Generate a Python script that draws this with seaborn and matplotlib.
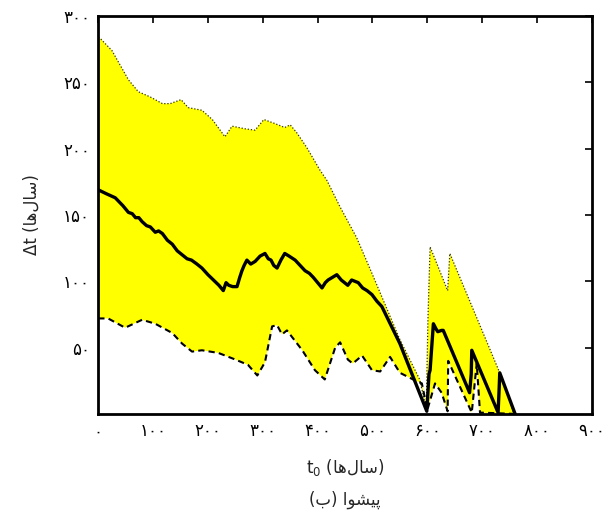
import numpy as np
import pandas as pd
import matplotlib
matplotlib.use("Agg")
import matplotlib.pyplot as plt
import seaborn as sns

# upper bound (dotted edge of the yellow band)
upper_t = [0, 4, 25, 55, 73, 95, 117, 131, 151, 164, 189, 208, 231, 244, 268, 286, 302,
           322, 340, 350, 362, 380, 404, 417, 441, 471, 499, 550, 586, 598, 601, 605,
           637, 641, 732, 758]
upper_v = [284, 283, 274, 252, 243, 239, 234, 234, 237, 231, 229, 222, 209, 217, 215, 214, 222,
           219, 216, 218, 212, 201, 184, 176, 156, 133, 106, 56, 26, 4, 70, 126,
           93, 121, 31, 0]

# mean curve (thick black)
mean_t = [0, 15, 31, 45, 55, 62, 68, 74, 80, 88, 95, 104, 110, 117, 126, 135, 144, 153,
          162, 170, 180, 189, 200, 210, 220, 228, 233, 238, 245, 253, 258, 262, 266, 271,
          278, 286, 295, 304, 310, 315, 320, 326, 333, 340, 348, 359, 368, 377, 385, 392,
          400, 408, 414, 419, 427, 435, 443, 449, 455, 462, 468, 474, 482, 490, 499, 508,
          517, 550, 599, 603, 605, 611, 616, 619, 626, 629, 677, 680, 681, 729, 731,
          732, 760]
mean_v = [169, 166, 163, 157, 152, 151, 148, 148, 145, 142, 141, 137, 138, 136, 131, 128,
          123, 120, 117, 116, 113, 110, 105, 101, 97, 93, 99, 97, 96, 96, 103, 108, 112,
          116, 113, 115, 119, 121, 117, 116, 112, 110, 116, 121, 119, 116, 112, 108, 106,
          103, 99, 95, 99, 101, 103, 105, 101, 99, 97, 101, 100, 99, 95, 93, 90, 85,
          81, 53, 2, 30, 33, 68, 64, 62, 63, 63, 16, 30, 48, 1, 20,
          31, 0]

# lower bound (dashed)
lower_t = [0, 18, 49, 80, 104, 135, 153, 171, 189, 219, 250, 273, 290, 304, 317, 326,
           335, 344, 372, 395, 413, 432, 441, 455, 464, 481, 499, 514, 532, 550, 574,
           590, 600, 614, 626, 637, 638, 660, 681, 690, 696, 760]
lower_v = [72, 72, 65, 71, 68, 61, 53, 47, 48, 46, 41, 37, 29, 39, 66, 67,
           60, 63, 48, 33, 26, 50, 54, 41, 38, 44, 33, 32, 43, 31, 26,
           23, 3, 23, 16, 2, 40, 20, 1, 38, 1, 0]

x_ticks = [0, 100, 200, 300, 400, 500, 600, 700, 800, 900]
y_ticks = [50, 100, 150, 200, 250, 300]

FA_DIGITS = str.maketrans("0123456789", "۰۱۲۳۴۵۶۷۸۹")


def fa(n):
    return str(n).translate(FA_DIGITS)


# Persian words in visual (left-to-right) order with presentation forms
sal_ha = "\uFE8E\uFEEB\uFEDD\uFE8E\uFEB3"
pishva = "\uFE8D\uFEEE\uFEB8\uFEF4\uFB58"
be = "\uFE8F"

sns.set_style("white")
plt.rcParams["font.family"] = ["DejaVu Sans"]
plt.rcParams["mathtext.fontset"] = "dejavusans"

fig = plt.figure(figsize=(6.14, 5.2), dpi=100)
ax = fig.add_axes([0.160, 0.204, 0.804, 0.765])

poly_t = np.r_[upper_t, lower_t[::-1]]
poly_v = np.r_[upper_v, lower_v[::-1]]
ax.fill(poly_t, poly_v, color="#ffff00", lw=0, zorder=1)

sns.lineplot(x=upper_t, y=upper_v, sort=False, estimator=None, ax=ax,
             color="#333300", lw=0.9, ls=(0, (1, 1.5)), zorder=2)
sns.lineplot(x=lower_t, y=lower_v, sort=False, estimator=None, ax=ax,
             color="black", lw=1.5, ls=(0, (3, 2)), zorder=3)
sns.lineplot(x=mean_t, y=mean_v, sort=False, estimator=None, ax=ax,
             color="black", lw=2.4, zorder=4)

ax.set_xlim(0, 900)
ax.set_ylim(0, 300)
ax.set_xticks(x_ticks)
ax.set_xticklabels([fa(v) for v in x_ticks], fontsize=12)
ax.set_yticks(y_ticks)
ax.set_yticklabels([fa(v) for v in y_ticks], fontsize=12)
ax.tick_params(direction="in", length=5, width=1.2, top=True, right=True,
               colors="black", pad=6)
for s in ax.spines.values():
    s.set_linewidth(2)
    s.set_color("black")

ax.set_xlabel(r"$\mathrm{t}_0$ (" + sal_ha + ")", fontsize=12, labelpad=12)
ax.set_ylabel("\u0394t (" + sal_ha + ")", fontsize=12, labelpad=16)
fig.text(0.562, 0.038, "(" + be + ") " + pishva, fontsize=12, ha="center", va="center")

fig.savefig("out.png", dpi=100)
